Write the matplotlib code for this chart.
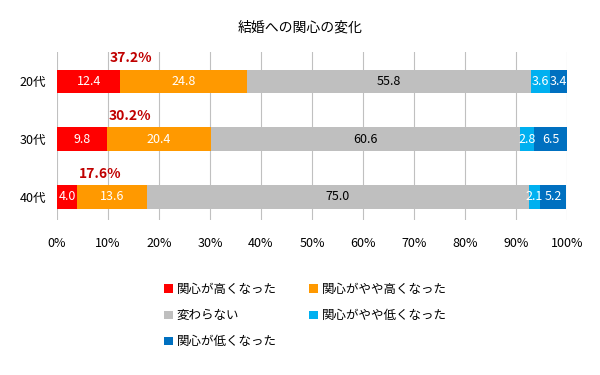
import matplotlib
matplotlib.use('Agg')
from matplotlib import pyplot as plt
import numpy as np

plt.rcParams['font.family'] = ['Noto Sans CJK JP', 'DejaVu Sans']

ages = ['20代', '30代', '40代']
series = ['関心が高くなった', '関心がやや高くなった', '変わらない', '関心がやや低くなった', '関心が低くなった']
high = [12.4, 9.8, 4.0]
mid_high = [24.8, 20.4, 13.6]
same = [55.8, 60.6, 75.0]
mid_low = [3.6, 2.8, 2.1]
low = [3.4, 6.5, 5.2]
totals = ['37.2%', '30.2%', '17.6%']
total_x = [14.5, 14.3, 8.4]

colors = ['#FF0000', '#FF9900', '#BFBFBF', '#00B0F0', '#0070C0']
txt_colors = ['white', 'white', 'black', 'white', 'white']

fig = plt.figure(figsize=(6, 3.75), dpi=100)
ax = fig.add_axes([0.095, 0.413, 0.85, 0.448])

y = np.arange(len(ages))
left = np.zeros(len(ages))
handles = []
for vals, name, c, tc in zip([high, mid_high, same, mid_low, low], series, colors, txt_colors):
    bars = ax.barh(y, vals, left=left, height=0.40, color=c, label=name, zorder=3)
    handles.append(bars)
    for yi, l, v in zip(y, left, vals):
        ax.text(l + v / 2, yi, f'{v:.1f}', ha='center', va='center', color=tc, fontsize=9, zorder=4)
    left += np.array(vals)

for yi, t, tx in zip(y, totals, total_x):
    ax.text(tx, yi - 0.39, t, ha='center', va='center', color='#C00000', fontsize=10, fontweight='bold')

ax.set_xlim(0, 100)
ax.set_ylim(2.4, -0.5)
ax.set_yticks(y)
ax.set_yticklabels(ages, fontsize=9)
ax.set_xticks(np.arange(0, 101, 10))
ax.set_xticklabels([f'{v}%' for v in range(0, 101, 10)], fontsize=9)
ax.tick_params(axis='y', length=0, pad=8)
ax.tick_params(axis='x', length=0, pad=12)
ax.xaxis.grid(True, color='#C0C0C0', linewidth=0.8, zorder=0)
for s in ax.spines.values():
    s.set_visible(False)

fig.suptitle('結婚への関心の変化', x=0.5, y=0.945, fontsize=10)

order = [0, 2, 4, 1, 3]
fig.legend([handles[i] for i in order], [series[i] for i in order], ncol=2,
           loc='upper left', bbox_to_anchor=(0.255, 0.275), frameon=False, fontsize=9,
           handlelength=0.7, handleheight=0.7, handletextpad=0.3, columnspacing=2.6,
           labelspacing=1.05)

fig.savefig('out.png', dpi=100)
